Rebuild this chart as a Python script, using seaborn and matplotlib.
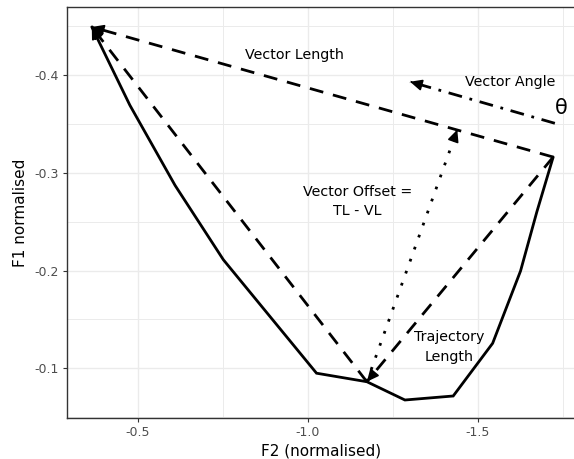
import numpy as np
import pandas as pd
import seaborn as sns
import matplotlib.pyplot as plt
from matplotlib.ticker import FixedLocator

# ---- data ----
traj_f2 = [-1.722, -1.674, -1.626, -1.544, -1.428, -1.286, -1.174, -1.026, -0.752, -0.610, -0.477, -0.365]
traj_f1 = [-0.316, -0.260, -0.1995, -0.1256, -0.0717, -0.0676, -0.0863, -0.095, -0.211, -0.287, -0.369, -0.449]
mid_index = 6

offset_tip_f2 = -1.44
offset_tip_f1 = -0.344

angle_f2 = [-1.727, -1.301]
angle_f1 = [-0.3505, -0.393]

x_ticks = [-0.5, -1.0, -1.5]
y_ticks = [-0.1, -0.2, -0.3, -0.4]
x_minor = [-0.75, -1.25, -1.75]
y_minor = [-0.05, -0.15, -0.25, -0.35, -0.45]

labels = {
    "Vector Length": (-0.960, -0.420, 10.3),
    "Vector Angle": (-1.595, -0.3927, 10.3),
    "θ": (-1.747, -0.3659, 15),
    "Vector Offset =\nTL - VL": (-1.1465, -0.2706, 10.3),
    "Trajectory\nLength": (-1.4156, -0.1218, 10.3),
}

# ---- style ----
sns.set_style("white")
plt.rcParams['font.family'] = ['DejaVu Sans']

fig = plt.figure(figsize=(5.74, 4.59), dpi=100)
ax = fig.add_axes([67 / 574, 41 / 459, (575 - 67) / 574, (418 - 7.3) / 459])

LW = 2.0
BLACK = "black"

start = (traj_f2[0], traj_f1[0])
mid = (traj_f2[mid_index], traj_f1[mid_index])
end = (traj_f2[-1], traj_f1[-1])

def seg(p, q):
    return pd.DataFrame({"F2": [p[0], q[0]], "F1": [p[1], q[1]]})

def head(p, q, ms=8):
    # arrowhead at q, pointing from p to q
    back = (q[0] + (p[0] - q[0]) * 0.01, q[1] + (p[1] - q[1]) * 0.01)
    ax.annotate("", xy=q, xytext=back,
                arrowprops=dict(arrowstyle="-|>,head_length=0.9,head_width=0.42",
                                color=BLACK, lw=1.2, shrinkA=0, shrinkB=0,
                                mutation_scale=ms), zorder=5)

# trajectory
traj = pd.DataFrame({"F2": traj_f2, "F1": traj_f1})
sns.lineplot(data=traj, x="F2", y="F1", sort=False, estimator=None,
             color=BLACK, lw=LW, ax=ax, solid_joinstyle="miter")
head((traj_f2[-2], traj_f1[-2]), end)

dashed = (0, (5, 3.6))
# vector length
sns.lineplot(data=seg(start, end), x="F2", y="F1", sort=False, estimator=None,
             color=BLACK, lw=LW, linestyle=dashed, ax=ax)
head(start, end)
# trajectory length approximation
sns.lineplot(data=seg(start, mid), x="F2", y="F1", sort=False, estimator=None,
             color=BLACK, lw=LW, linestyle=dashed, ax=ax)
head(start, mid)
sns.lineplot(data=seg(mid, end), x="F2", y="F1", sort=False, estimator=None,
             color=BLACK, lw=LW, linestyle=dashed, ax=ax)
head(mid, end)
# vector offset (dotted)
otip = (offset_tip_f2, offset_tip_f1)
sns.lineplot(data=seg(mid, otip), x="F2", y="F1", sort=False, estimator=None,
             color=BLACK, lw=LW, linestyle=(0, (1, 3.6)), ax=ax)
head(mid, otip)
# vector angle (dot-dash)
a0 = (angle_f2[0], angle_f1[0])
a1 = (angle_f2[1], angle_f1[1])
sns.lineplot(data=seg(a0, a1), x="F2", y="F1", sort=False, estimator=None,
             color=BLACK, lw=LW, linestyle=(0, (5, 2.8, 1, 2.8)), ax=ax)
head(a0, a1)

for txt, (x, y, s) in labels.items():
    ax.text(x, y, txt, ha="center", va="center", fontsize=s, color="black",
            linespacing=1.5, zorder=6)

# ---- axes ----
ax.set_xlim(-0.2921, -1.7862)
ax.set_ylim(-0.0492, -0.4691)
ax.xaxis.set_major_locator(FixedLocator(x_ticks))
ax.yaxis.set_major_locator(FixedLocator(y_ticks))
ax.xaxis.set_minor_locator(FixedLocator(x_minor))
ax.yaxis.set_minor_locator(FixedLocator(y_minor))
ax.set_xticklabels([f"{v:.1f}" for v in x_ticks])
ax.set_yticklabels([f"{v:.1f}" for v in y_ticks])
ax.grid(which="major", color="#EBEBEB", lw=1.0)
ax.grid(which="minor", color="#EBEBEB", lw=0.7)
ax.set_axisbelow(True)
ax.tick_params(which="major", length=2.8, width=0.8, color="#333333",
               labelsize=9, labelcolor="#4D4D4D", pad=3, direction="out",
               bottom=True, left=True)
ax.tick_params(which="minor", length=0)
for s in ax.spines.values():
    s.set_color("#333333")
    s.set_linewidth(1.0)
ax.set_xlabel("F2 (normalised)", fontsize=11, color="black", labelpad=3)
ax.set_ylabel("F1 normalised", fontsize=11, color="black", labelpad=5)

fig.savefig("out.png", dpi=100)
